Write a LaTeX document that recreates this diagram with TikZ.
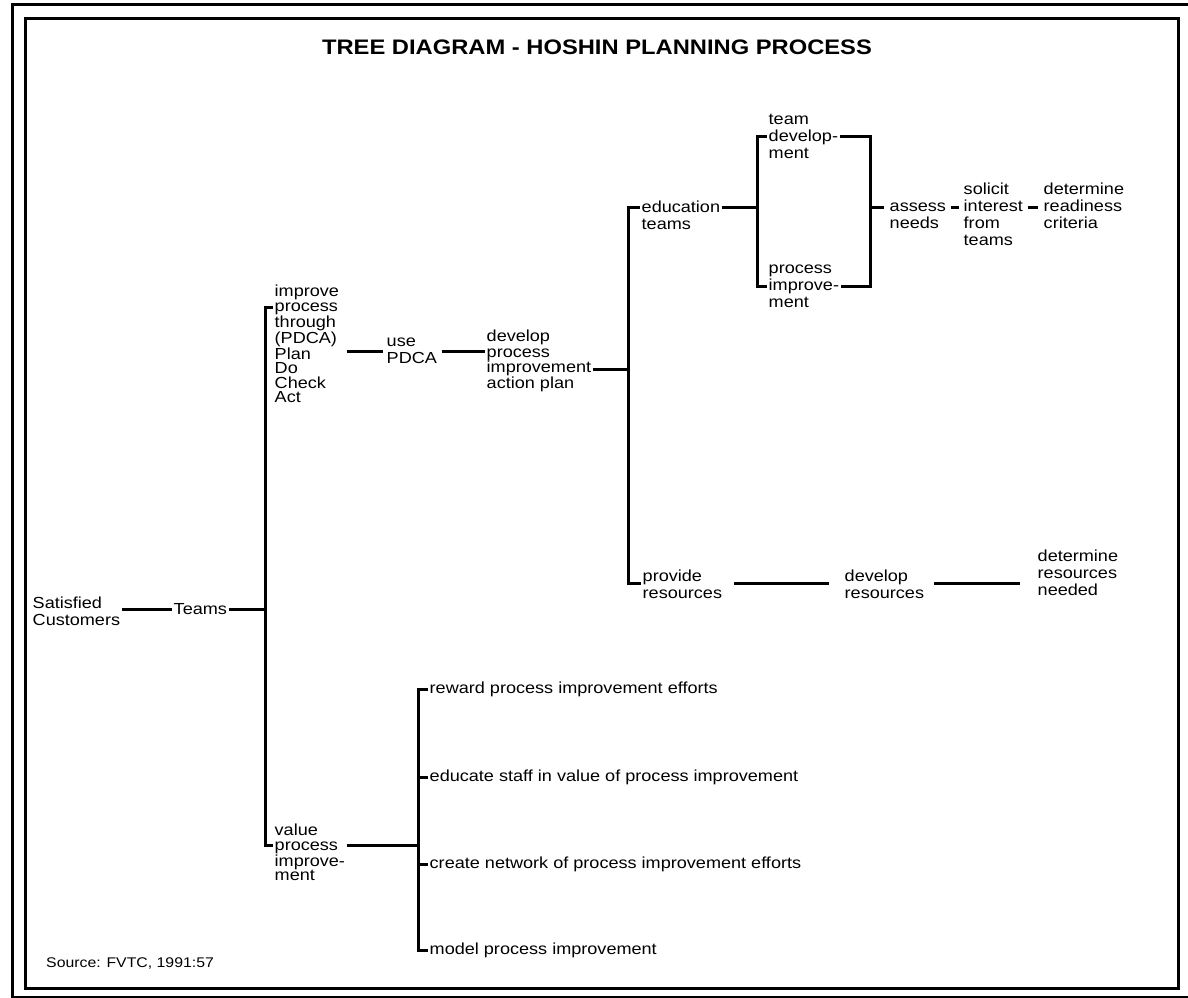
\documentclass[tikz,border=0pt]{standalone}
\usepackage{fontspec}
\setmainfont{Liberation Sans}[FakeStretch=1.13]
\begin{document}
\begin{tikzpicture}[x=1pt,y=-1pt,
  lbl/.style={anchor=west, align=left, inner sep=1.5pt, font=\fontsize{16}{17}\selectfont},
  tightlbl/.style={lbl, font=\fontsize{16}{14.5}\selectfont},
  midlbl/.style={lbl, font=\fontsize{16}{15.5}\selectfont},
  tree/.style={line width=3pt},
  border/.style={line width=3pt}]
\useasboundingbox (0,0) rectangle (1188,998);

% double frame
\draw[border] (25,19) rectangle (1178,988);
\draw[border] (1188,5) -- (12,5) -- (12,997) -- (1188,997);

\node[font=\fontsize{21}{24}\selectfont\bfseries] (title) at (597,47)
  {TREE DIAGRAM - HOSHIN PLANNING PROCESS};

% root and first level
\node[lbl] (sat) at (31,611) {Satisfied\\Customers};
\node[lbl] (teams) at (172,609) {Teams};
\coordinate (b0top) at (265,307);
\coordinate (b0mid) at (265,609);
\coordinate (b0bot) at (265,845);

% upper branch
\node[tightlbl] (improve) at (273,344)
  {improve\\process\\through\\(PDCA)\\Plan\\Do\\Check\\Act};
\node[lbl] (use) at (385,351) {use\\PDCA};
\node[midlbl] (develop) at (485,361) {develop\\process\\improvement\\action plan};
\coordinate (b1top) at (628,207);
\coordinate (b1mid) at (628,369);
\coordinate (b1bot) at (628,583);

\node[lbl] (edu) at (640,215.5) {education\\teams};
\coordinate (b2top) at (757,136);
\coordinate (b2mid) at (757,207);
\coordinate (b2bot) at (757,286);
\node[lbl] (team) at (767,136) {team\\develop-\\ment};
\node[lbl] (procimp) at (767,286) {process\\improve-\\ment};
\coordinate (b3top) at (870,136);
\coordinate (b3mid) at (870,207);
\coordinate (b3bot) at (870,286);
\node[lbl] (assess) at (888,215.5) {assess\\needs};
\node[lbl] (solicit) at (962,214.5) {solicit\\interest\\from\\teams};
\node[lbl] (det1) at (1042,206) {determine\\readiness\\criteria};

\node[lbl] (provide) at (641,584.5) {provide\\resources};
\node[lbl] (dev2) at (843,584.5) {develop\\resources};
\node[lbl] (det2) at (1036,573) {determine\\resources\\needed};

% lower branch
\node[tightlbl] (value) at (273,852.5) {value\\process\\improve-\\ment};
\coordinate (b4top) at (418,689);
\coordinate (b4mid) at (418,845);
\coordinate (b4bot) at (418,950);
\node[lbl] (reward) at (428,689) {reward process improvement efforts};
\node[lbl] (educate) at (428,777) {educate staff in value of process improvement};
\node[lbl] (create) at (428,864) {create network of process improvement efforts};
\node[lbl] (model) at (428,950) {model process improvement};

\node[anchor=west, inner sep=0pt, font=\fontsize{14}{16}\selectfont] (source) at (46,963)
  {Source: FVTC, 1991:57};

% connectors
\draw[tree] (sat.east |- b0mid) -- (teams.west);
\draw[tree] (teams.east) -- (b0mid);
\draw[tree] (improve.west |- b0top) -- (b0top) -- (b0bot) -- (value.west |- b0bot);
\draw[tree, shorten <=6pt, shorten >=2pt] (improve.east |- use.west) -- (use.west);
\draw[tree, shorten <=3pt] (use.east) -- (develop.west |- use.east);
\draw[tree] (develop.east |- b1mid) -- (b1mid);
\draw[tree] (edu.west |- b1top) -- (b1top) -- (b1bot) -- (provide.west |- b1bot);
\draw[tree] (edu.east |- b2mid) -- (b2mid);
\draw[tree] (team.west |- b2top) -- (b2top) -- (b2bot) -- (procimp.west |- b2bot);
\draw[tree] (team.east |- b3top) -- (b3top) -- (b3bot) -- (procimp.east |- b3bot);
\draw[tree, shorten >=4pt] (b3mid) -- (assess.west |- b3mid);
\draw[tree, shorten <=3pt, shorten >=3pt] (assess.east |- b3mid) -- (solicit.west |- b3mid);
\draw[tree, shorten <=3pt, shorten >=4pt] (solicit.east |- b3mid) -- (det1.west |- b3mid);
\draw[tree, shorten <=10pt, shorten >=14pt] (provide.east |- b1bot) -- (dev2.west |- b1bot);
\draw[tree, shorten <=8pt, shorten >=16pt] (dev2.east |- b1bot) -- (det2.west |- b1bot);
\draw[tree] (value.east |- b4mid) -- (b4mid);
\draw[tree] (reward.west) -- (b4top) -- (b4bot) -- (model.west);
\draw[tree] (educate.west) -- (educate.west -| b4top);
\draw[tree] (create.west) -- (create.west -| b4top);
\end{tikzpicture}
\end{document}
